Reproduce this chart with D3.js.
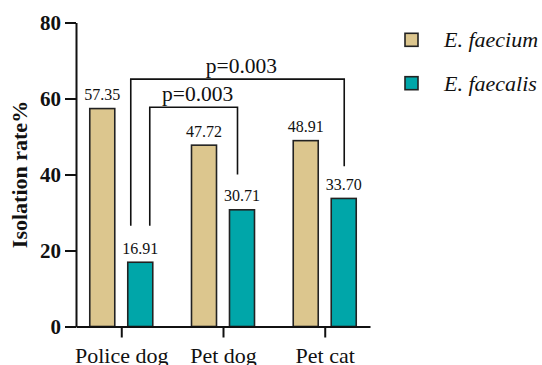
<!DOCTYPE html>
<html>
<head>
<meta charset="utf-8">
<script src="https://cdn.jsdelivr.net/npm/d3@7/dist/d3.min.js"></script>
<style>
  html, body { margin: 0; padding: 0; background: #fff; }
  svg { display: block; font-family: "Liberation Serif", "Times New Roman", serif; }
</style>
</head>
<body>
<svg id="chart" width="542" height="365"></svg>
<script>
// Isolation rate of Enterococcus species by host group
const categories = ["Police dog", "Pet dog", "Pet cat"];
const seriesNames = ["E. faecium", "E. faecalis"];
const faecium = [57.35, 47.72, 48.91];
const faecalis = [16.91, 30.71, 33.70];
const yTicks = [0, 20, 40, 60, 80];
const colors = ["#DCC68E", "#00A6A9"];

// Significance comparisons: faecalis of police dog vs faecalis of other groups
const comparisons = [
  { from: "Police dog", to: "Pet dog", label: "p=0.003" },
  { from: "Police dog", to: "Pet cat", label: "p=0.003" }
];

const svg = d3.select("#chart");
const plotLeft = 76, plotRight = 370, plotTop = 22.5, plotBottom = 326.5;

const y = d3.scaleLinear().domain([0, 80]).range([plotBottom, plotTop]);
const x = d3.scalePoint().domain(categories).range([plotLeft, plotRight]).padding(0.445);
const xs = d3.scaleBand().domain(seriesNames).range([-31.5, 31.5]).paddingInner(0.342);

const values = [faecium, faecalis];
const bars = [];
categories.forEach((c, i) => {
  seriesNames.forEach((s, j) => bars.push({ cat: c, series: s, j, value: values[j][i] }));
});

// bars
svg.append("g").selectAll("rect").data(bars).join("rect")
  .attr("x", d => x(d.cat) + xs(d.series))
  .attr("y", d => y(d.value))
  .attr("width", xs.bandwidth())
  .attr("height", d => y(0) - y(d.value))
  .attr("fill", d => colors[d.j])
  .attr("stroke", "#222")
  .attr("stroke-width", 1.6);

// value labels
svg.append("g").selectAll("text").data(bars).join("text")
  .attr("x", d => x(d.cat) + xs(d.series) + xs.bandwidth() / 2)
  .attr("y", d => y(d.value) - 8.5)
  .attr("text-anchor", "middle")
  .attr("font-size", 16)
  .attr("fill", "#111")
  .text(d => d.value.toFixed(2));

// significance brackets
const legX = (cat, off) => x(cat) + xs("E. faecalis") + xs.bandwidth() / 2 + off;
const bracketGeom = [
  { x1: legX("Police dog", 9.5), x2: legX("Pet dog", -4.5), top: 57.7, y1: 26.5, y2: 40.0 },
  { x1: legX("Police dog", -9.5), x2: legX("Pet cat", 0.5), top: 65.1, y1: 26.5, y2: 42.2 }
];
const bg = svg.append("g");
comparisons.forEach((cmp, i) => {
  const g = bracketGeom[i];
  bg.append("path")
    .attr("d", `M${g.x1},${y(g.y1)}V${y(g.top)}H${g.x2}V${y(g.y2)}`)
    .attr("fill", "none")
    .attr("stroke", "#111")
    .attr("stroke-width", 1.6);
  bg.append("text")
    .attr("x", (g.x1 + g.x2) / 2 + 4)
    .attr("y", y(g.top) - 6)
    .attr("text-anchor", "middle")
    .attr("font-size", 21.5)
    .attr("fill", "#111")
    .text(cmp.label);
});

// y axis
const yAxis = svg.append("g")
  .attr("transform", `translate(${plotLeft},0)`)
  .call(d3.axisLeft(y).tickValues(yTicks).tickSize(11).tickSizeOuter(0).tickPadding(4));
yAxis.select(".domain").attr("stroke", "#111").attr("stroke-width", 2);
yAxis.selectAll(".tick line").attr("stroke", "#111").attr("stroke-width", 2);
yAxis.selectAll(".tick text")
  .attr("font-family", "Liberation Serif, serif")
  .attr("font-size", 21)
  .attr("font-weight", "bold")
  .attr("fill", "#111");

// x axis
const xAxis = svg.append("g")
  .attr("transform", `translate(0,${plotBottom})`)
  .call(d3.axisBottom(x).tickSize(11).tickSizeOuter(0));
xAxis.select(".domain").attr("stroke", "#111").attr("stroke-width", 2);
xAxis.selectAll(".tick line").attr("stroke", "#111").attr("stroke-width", 2);
xAxis.selectAll(".tick text")
  .attr("font-family", "Liberation Serif, serif")
  .attr("font-size", 22)
  .attr("fill", "#111")
  .attr("y", 36)
  .attr("dy", 0);

// y axis title
svg.append("text")
  .attr("transform", `translate(27,${(plotTop + plotBottom) / 2}) rotate(-90)`)
  .attr("text-anchor", "middle")
  .attr("font-size", 22)
  .attr("font-weight", "bold")
  .attr("fill", "#111")
  .text("Isolation rate%");

// legend
const legend = svg.append("g").selectAll("g").data(seriesNames).join("g")
  .attr("transform", (d, i) => `translate(405,${33.3 + i * 43.4})`);
legend.append("rect")
  .attr("width", 13).attr("height", 13)
  .attr("fill", (d, i) => colors[i])
  .attr("stroke", "#222").attr("stroke-width", 1.6);
legend.append("text")
  .attr("x", 39).attr("y", 14)
  .attr("font-size", 22)
  .attr("font-style", "italic")
  .attr("fill", "#111")
  .text(d => d);
</script>
</body>
</html>
